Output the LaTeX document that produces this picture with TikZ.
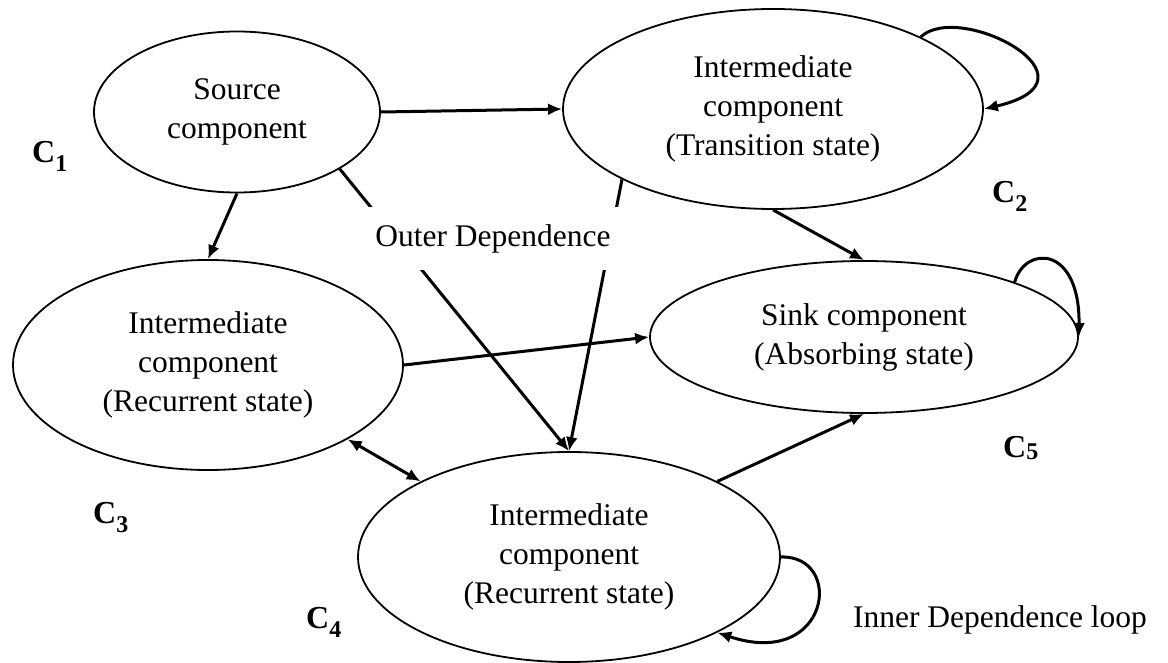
\documentclass[tikz,border=0pt]{standalone}
\usepackage{fontspec}
\setmainfont{Liberation Serif}
\usetikzlibrary{shapes.geometric,arrows.meta}
\newcommand{\csub}[2][-9pt]{\raisebox{#1}{\fontsize{24}{24}\selectfont #2}}
\tikzset{
  comp/.style={draw, ellipse, line width=1.8pt, inner sep=0pt, align=center,
    font=\fontsize{31.5}{39}\selectfont},
  link/.style={line width=3pt, -{Latex[length=14pt,width=12pt]}},
  clabel/.style={anchor=base west, inner sep=0pt, font=\fontsize{32}{32}\selectfont\bfseries}
}
\begin{document}
\begin{tikzpicture}[x=1pt,y=-1pt]
\useasboundingbox (0,0) rectangle (1168,663);
% components
\node [comp, minimum width=286pt, minimum height=161pt] (src) at (237,112) {Source\\component};
\node [comp, minimum width=420pt, minimum height=200pt] (trans) at (773,109) {Intermediate\\component\\(Transition state)};
\node [comp, minimum width=390pt, minimum height=210pt] (lrec) at (208,365) {Intermediate\\component\\(Recurrent state)};
\node [comp, minimum width=428pt, minimum height=152pt] (sink) at (864,337) {Sink component\\(Absorbing state)};
\node [comp, minimum width=422pt, minimum height=210pt] (rbot) at (569,557) {Intermediate\\component\\(Recurrent state)};
% labels
\node [clabel] (c1) at (32,163) {C\csub{1}};
\node [clabel] (c2) at (992,203) {C\csub{2}};
\node [clabel] (c3) at (93,523) {C\csub{3}};
\node [clabel] (c4) at (306,628) {C\csub{4}};
\node [clabel] (c5) at (1003,457) {C\csub[-2pt]{5}};
% outer dependence
\draw [link] (src.east) -- (trans.west);
\draw [link] (src.south) -- (lrec.north);
\draw [link] (src.-29) -- (rbot.north);
\draw [link] (trans.205) -- (rbot.north);
\draw [link] (trans.south) -- (sink.north);
\draw [link] (lrec.east) -- (sink.west);
\draw [link, {Latex[length=14pt,width=12pt]}-{Latex[length=14pt,width=12pt]}] (lrec.-28) -- (rbot.153);
\draw [link] (rbot.27) -- (sink.south);
\node [fill=white, inner sep=0pt, minimum width=262pt, minimum height=63pt,
  font=\fontsize{31.5}{39}\selectfont] (outer) at (493,238.5) {Outer Dependence};
% inner dependence loops
\draw [link] (trans.26) .. controls (960,0) and (1110,80) .. (trans.east);
\draw [link] (sink.20) .. controls (1025,245) and (1080,245) .. (sink.east);
\draw [link] (rbot.east) .. controls (845,555) and (830,670) .. (rbot.-27);
\node [font=\fontsize{31.5}{39}\selectfont] (inner) at (1000,620) {Inner Dependence loop};
\end{tikzpicture}
\end{document}
